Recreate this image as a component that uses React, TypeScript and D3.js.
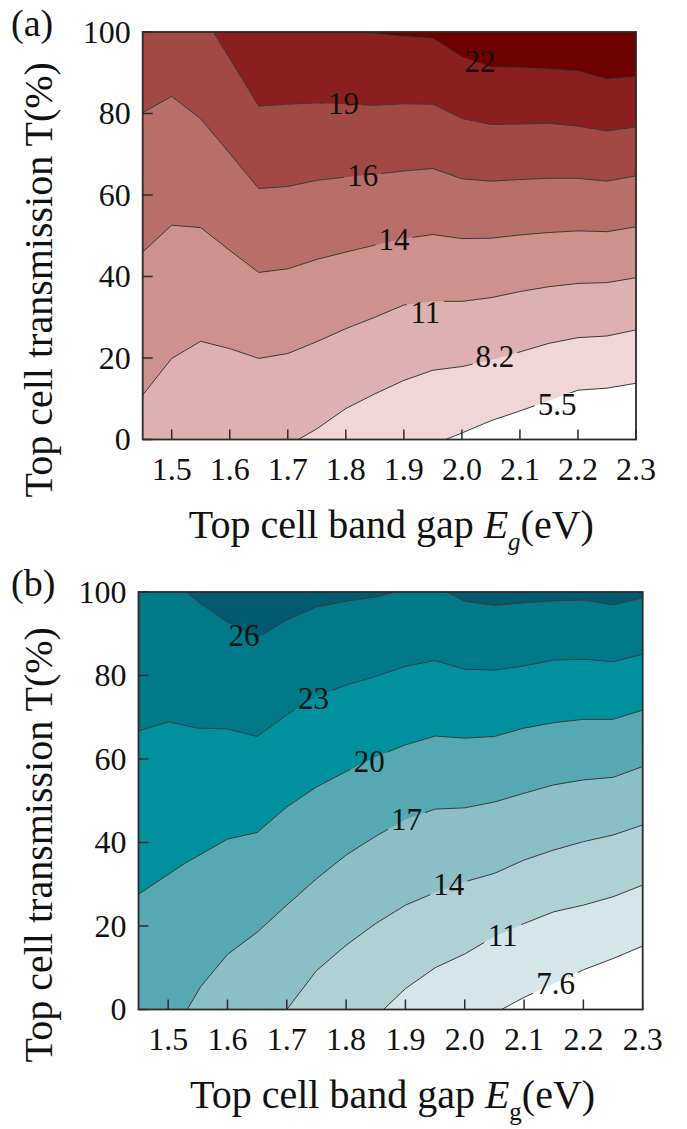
import React from 'react';
import * as d3 from 'd3';

type Pt = [number, number];

// shared axes
const egDomain: Pt = [1.45, 2.3];
const tDomain: Pt = [0, 100];
const egTicks = [1.5, 1.6, 1.7, 1.8, 1.9, 2.0, 2.1, 2.2, 2.3];
const tTicks = [0, 20, 40, 60, 80, 100];

// (a) contour lines, [Eg, T]
const a55: Pt[] = [[1.972, 0], [2.0, 1.6], [2.05, 4.6], [2.1, 7.0], [2.2, 12.1], [2.25, 12.6], [2.3, 13.8]];
const a82: Pt[] = [[1.718, 0], [1.75, 2.6], [1.8, 7.6], [1.85, 11.2], [1.9, 14.5], [1.95, 17.0], [2.0, 17.9], [2.05, 19.5], [2.1, 21.5], [2.15, 23.6], [2.2, 25.0], [2.25, 25.4], [2.3, 26.9]];
const a109: Pt[] = [[1.45, 10.9], [1.5, 19.9], [1.55, 24.1], [1.6, 22.3], [1.65, 19.9], [1.7, 21.1], [1.75, 24.0], [1.8, 27.2], [1.85, 30.0], [1.9, 33.0], [1.95, 33.9], [2.0, 33.9], [2.05, 34.8], [2.1, 36.3], [2.15, 37.5], [2.2, 38.3], [2.25, 38.5], [2.3, 39.7]];
const a136: Pt[] = [[1.45, 46.0], [1.5, 52.6], [1.55, 52.0], [1.6, 46.4], [1.65, 41.0], [1.7, 41.9], [1.75, 44.2], [1.8, 46.0], [1.85, 47.7], [1.9, 49.3], [1.95, 50.3], [2.0, 49.3], [2.05, 49.4], [2.1, 50.2], [2.15, 50.8], [2.2, 51.2], [2.25, 51.0], [2.3, 52.2]];
const a163: Pt[] = [[1.45, 80.2], [1.5, 84.2], [1.55, 78.7], [1.6, 70.2], [1.65, 61.6], [1.7, 62.1], [1.75, 63.6], [1.8, 64.4], [1.85, 65.1], [1.9, 65.9], [1.95, 66.5], [2.0, 64.0], [2.05, 63.4], [2.1, 63.8], [2.15, 64.1], [2.2, 64.1], [2.25, 63.4], [2.3, 64.7]];
const a190: Pt[] = [[1.572, 100], [1.65, 81.8], [1.7, 82.3], [1.75, 82.6], [1.8, 82.3], [1.85, 82.0], [1.9, 82.4], [1.95, 82.3], [2.0, 78.8], [2.05, 77.3], [2.1, 77.4], [2.15, 77.6], [2.2, 76.9], [2.25, 75.7], [2.3, 76.7]];
const a217: Pt[] = [[1.82, 100], [1.9, 98.9], [1.95, 98.4], [2.0, 93.9], [2.05, 91.5], [2.1, 91.2], [2.15, 90.9], [2.2, 90.4], [2.25, 88.4], [2.3, 89.0]];

const labelsA = ['5.5', '8.2', '11', '14', '16', '19', '22'];
const labelPosA: Pt[] = [[2.164, 8.5], [2.057, 20.5], [1.937, 31.2], [1.883, 49.2], [1.829, 64.7], [1.796, 82.4], [2.031, 92.8]];
const fillsA = ['#ffffff', '#f0d6d6', '#dcb1af', '#cd918e', '#b86f69', '#a24945', '#8b1e1f', '#6f0000'];

// (b) contour lines
const b76: Pt[] = [[2.062, 0], [2.1, 2.9], [2.2, 9.5], [2.25, 12.2], [2.3, 15.2]];
const b107: Pt[] = [[1.863, 0], [1.9, 5.0], [1.95, 10.0], [2.0, 13.3], [2.05, 17.5], [2.1, 20.6], [2.15, 23.4], [2.2, 25.0], [2.25, 27.0], [2.3, 29.8]];
const b137: Pt[] = [[1.7, 0], [1.75, 9.3], [1.8, 15.4], [1.85, 20.6], [1.9, 25.0], [1.95, 28.0], [2.0, 30.6], [2.05, 32.6], [2.1, 35.8], [2.15, 38.2], [2.2, 40.2], [2.25, 41.8], [2.3, 44.2]];
const b168: Pt[] = [[1.532, 0], [1.555, 5.5], [1.6, 13.2], [1.65, 18.5], [1.7, 25.0], [1.75, 31.3], [1.8, 37.0], [1.85, 41.5], [1.9, 45.5], [1.95, 48.0], [2.0, 48.3], [2.05, 49.7], [2.1, 51.8], [2.15, 53.8], [2.2, 55.0], [2.25, 55.6], [2.3, 58.2]];
const b198: Pt[] = [[1.45, 27.6], [1.528, 35.0], [1.6, 40.8], [1.65, 42.4], [1.7, 48.5], [1.75, 53.3], [1.8, 57.0], [1.85, 60.5], [1.9, 63.4], [1.95, 65.5], [2.0, 65.0], [2.05, 65.4], [2.1, 67.4], [2.15, 68.7], [2.2, 69.5], [2.25, 69.5], [2.3, 71.7]];
const b228: Pt[] = [[1.45, 66.7], [1.5, 68.9], [1.55, 67.4], [1.6, 67.2], [1.65, 65.4], [1.7, 70.6], [1.75, 75.0], [1.8, 77.7], [1.85, 79.8], [1.9, 82.2], [1.95, 83.6], [2.0, 81.5], [2.05, 81.3], [2.1, 82.3], [2.15, 83.7], [2.2, 83.9], [2.25, 83.3], [2.3, 85.1]];
const b259a: Pt[] = [[1.531, 100], [1.553, 97.4], [1.6, 92.8], [1.649, 88.9], [1.7, 93.3], [1.75, 96.4], [1.8, 97.8], [1.85, 98.8], [1.883, 100]];
const b259b: Pt[] = [[1.97, 100], [2.0, 97.8], [2.05, 96.8], [2.1, 97.4], [2.15, 97.9], [2.2, 98.1], [2.25, 96.9], [2.3, 98.6]];

const labelsB = ['7.6', '11', '14', '17', '20', '23', '26'];
const labelPosB: Pt[] = [[2.153, 6.3], [2.064, 17.8], [1.973, 30.0], [1.902, 45.4], [1.839, 59.4], [1.745, 74.5], [1.628, 89.7]];
const fillsB = ['#ffffff', '#d4e6e9', '#afd0d4', '#8abfc7', '#56a9b3', '#00919e', '#007a89', '#015a70'];

const W = 687;
const H = 1129;
const font = "'Liberation Serif', 'DejaVu Serif', serif";

type Box = { left: number; right: number; top: number; bottom: number };

type PanelProps = {
  id: string;
  tag: string;
  box: Box;
  lines: Pt[][][];
  labels: string[];
  labelPos: Pt[];
  fills: string[];
  subItalic: boolean;
};

const Panel = ({ id, tag, box, lines, labels, labelPos, fills, subItalic }: PanelProps) => {
  const x = d3.scaleLinear().domain(egDomain).range([box.left, box.right]);
  const y = d3.scaleLinear().domain(tDomain).range([box.bottom, box.top]);
  const line = d3.line<Pt>().x(d => x(d[0])).y(d => y(d[1]));
  const [xMin, xMax] = egDomain;
  const [yMin, yMax] = tDomain;

  // close a contour toward its high-value (upper left) side
  const region = (pts: Pt[]): Pt[] => {
    const [x0, y0] = pts[0];
    const [x1] = pts[pts.length - 1];
    const poly: Pt[] = [...pts];
    if (x1 >= xMax - 1e-6) poly.push([xMax, yMax]);
    if (y0 <= yMin + 1e-6) poly.push([xMin, yMax], [xMin, yMin]);
    else if (x0 <= xMin + 1e-6) poly.push([xMin, yMax]);
    return poly;
  };

  const fs = 31;
  const cx = (box.left + box.right) / 2;
  const cy = (box.top + box.bottom) / 2;

  return (
    <g>
      <defs>
        <clipPath id={`${id}-clip`}>
          <rect x={box.left} y={box.top} width={box.right - box.left} height={box.bottom - box.top} />
        </clipPath>
        <mask id={`${id}-mask`}>
          <rect x={0} y={0} width={W} height={H} fill="white" />
          {labels.map((t, i) => {
            const w = t.replace('.', '').length * fs * 0.5 + (t.includes('.') ? fs * 0.25 : 0) + 6;
            return (
              <rect key={i} x={x(labelPos[i][0]) - w / 2} y={y(labelPos[i][1]) - fs * 0.38}
                width={w} height={fs * 0.76} fill="black" />
            );
          })}
        </mask>
      </defs>

      <g clipPath={`url(#${id}-clip)`}>
        <rect x={box.left} y={box.top} width={box.right - box.left} height={box.bottom - box.top} fill={fills[0]} />
        {lines.map((group, i) =>
          group.map((pts, j) => (
            <path key={`${i}-${j}`} d={line(region(pts)) + 'Z'} fill={fills[i + 1]} />
          ))
        )}
        <g mask={`url(#${id}-mask)`}>
          {lines.flat().map((pts, i) => (
            <path key={i} d={line(pts) || ''} fill="none" stroke="#3a3a3a" strokeWidth={1} />
          ))}
        </g>
      </g>

      {labels.map((t, i) => (
        <text key={i} x={x(labelPos[i][0])} y={y(labelPos[i][1])} dy="0.34em" textAnchor="middle"
          fontFamily={font} fontSize={fs} fill="#111">{t}</text>
      ))}

      {egTicks.map(t => (
        <line key={t} x1={x(t)} x2={x(t)} y1={box.bottom} y2={box.bottom - 10} stroke="#2b2b2b" strokeWidth={1.5} />
      ))}
      {tTicks.map(t => (
        <line key={t} x1={box.left} x2={box.left + 10} y1={y(t)} y2={y(t)} stroke="#2b2b2b" strokeWidth={1.5} />
      ))}
      <rect x={box.left} y={box.top} width={box.right - box.left} height={box.bottom - box.top}
        fill="none" stroke="#2b2b2b" strokeWidth={1.8} />

      {egTicks.map(t => (
        <text key={t} x={x(t)} y={box.bottom + 40} textAnchor="middle" fontFamily={font} fontSize={32} fill="#111">
          {t.toFixed(1)}
        </text>
      ))}
      {tTicks.map(t => (
        <text key={t} x={box.left - 12} y={y(t)} dy="0.34em" textAnchor="end" fontFamily={font} fontSize={32} fill="#111">
          {t}
        </text>
      ))}

      <text x={cx + 2} y={box.bottom + 98} textAnchor="middle" fontFamily={font} fontSize={40} fill="#111">
        {'Top cell band gap '}
        <tspan fontStyle="italic">E</tspan>
        <tspan fontSize={25} dy={12} fontStyle={subItalic ? 'italic' : 'normal'}>g</tspan>
        <tspan dy={-12}>(eV)</tspan>
      </text>
      <text transform={`translate(52,${cy + 44}) rotate(-90)`} textAnchor="middle" fontFamily={font}
        fontSize={40} fill="#111">
        Top cell transmission T(%)
      </text>
      <text x={11} y={box.top + 4} fontFamily={font} fontSize={38} fill="#111">{tag}</text>
    </g>
  );
};

const App = () => {
  const linesA: Pt[][][] = [[a55], [a82], [a109], [a136], [a163], [a190], [a217]];
  const linesB: Pt[][][] = [[b76], [b107], [b137], [b168], [b198], [b228], [b259a, b259b]];
  return (
    <svg width={W} height={H} style={{ position: 'absolute', left: 0, top: 0, background: '#fff' }}>
      <Panel id="pa" tag="(a)" box={{ left: 142.7, right: 636, top: 32, bottom: 439.5 }}
        lines={linesA} labels={labelsA} labelPos={labelPosA} fills={fillsA} subItalic={true} />
      <Panel id="pb" tag="(b)" box={{ left: 138.5, right: 642.7, top: 592, bottom: 1009.5 }}
        lines={linesB} labels={labelsB} labelPos={labelPosB} fills={fillsB} subItalic={false} />
    </svg>
  );
};

export default App;
